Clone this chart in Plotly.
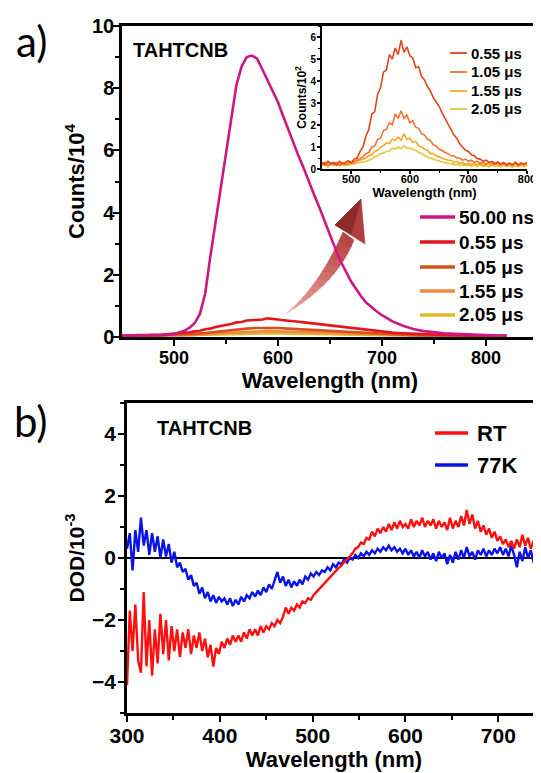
import plotly.graph_objects as go

W, H = 541, 773
OFF = 8  # default page body margin
def PX(x): return (x - OFF) / W
def PY(y): return 1 - (y - OFF) / H

# ---------------- data: panel a, main ----------------
wl_50ns = [450, 460, 470, 480, 490, 500] + list(range(505, 701, 5)) + list(range(710, 821, 10))
cnt_50ns = [0.04, 0.04, 0.05, 0.05, 0.06, 0.10,
            0.14, 0.20, 0.30, 0.45, 0.75, 1.40, 2.60, 3.70, 4.80, 6.00,
            7.10, 8.10, 8.70, 9.00, 9.05, 8.95, 8.60, 8.25, 7.95, 7.55,
            7.10, 6.65, 6.20, 5.80, 5.40, 4.95, 4.55, 4.15, 3.70, 3.30,
            2.85, 2.45, 2.10, 1.80, 1.55, 1.30, 1.10, 0.95, 0.82, 0.70,
            0.50, 0.36, 0.26, 0.19, 0.15, 0.12, 0.10, 0.08, 0.07, 0.06, 0.05, 0.05]

wl_055 = list(range(450, 811, 5))
cnt_055 = [0.05, 0.04, 0.05, 0.06, 0.05, 0.06, 0.07, 0.06, 0.08, 0.09,
           0.10, 0.11, 0.13, 0.15, 0.18, 0.20, 0.25, 0.27, 0.32, 0.35,
           0.40, 0.42, 0.47, 0.48, 0.53, 0.54, 0.57, 0.56, 0.60, 0.57,
           0.56, 0.54, 0.53, 0.50, 0.49, 0.47, 0.45, 0.44, 0.41, 0.40,
           0.37, 0.36, 0.33, 0.31, 0.28, 0.27, 0.24, 0.22, 0.20, 0.18,
           0.17, 0.15, 0.14, 0.13, 0.12, 0.11, 0.10, 0.10, 0.09, 0.08,
           0.08, 0.07, 0.07, 0.06, 0.06, 0.06, 0.05, 0.05, 0.05, 0.05,
           0.05, 0.04, 0.04]

wl_us = list(range(450, 821, 10))
cnt_105 = [0.03, 0.04, 0.04, 0.05, 0.05, 0.06, 0.08, 0.10, 0.13, 0.17,
           0.21, 0.24, 0.27, 0.29, 0.30, 0.29, 0.27, 0.25, 0.23, 0.21,
           0.19, 0.17, 0.15, 0.13, 0.11, 0.09, 0.08, 0.07, 0.06, 0.05,
           0.05, 0.04, 0.04, 0.04, 0.03, 0.03, 0.03, 0.03]
cnt_155 = [0.03, 0.03, 0.03, 0.04, 0.04, 0.05, 0.06, 0.07, 0.09, 0.11,
           0.13, 0.15, 0.17, 0.18, 0.19, 0.18, 0.17, 0.16, 0.15, 0.13,
           0.12, 0.11, 0.10, 0.09, 0.08, 0.07, 0.06, 0.05, 0.05, 0.04,
           0.04, 0.04, 0.03, 0.03, 0.03, 0.03, 0.03, 0.03]
cnt_205 = [0.04, 0.04, 0.04, 0.04, 0.05, 0.05, 0.06, 0.06, 0.07, 0.08,
           0.09, 0.10, 0.11, 0.12, 0.12, 0.12, 0.11, 0.11, 0.10, 0.09,
           0.09, 0.08, 0.07, 0.07, 0.06, 0.06, 0.05, 0.05, 0.05, 0.05,
           0.05, 0.05, 0.05, 0.05, 0.05, 0.05, 0.05, 0.05]

# ---------------- data: panel a, inset (counts / 10^2) ----------------
wl_ins = list(range(450, 801, 5))
ins_055 = [0.30, 0.20, 0.35, 0.25, 0.30, 0.18, 0.35, 0.25, 0.30, 0.38,
           0.28, 0.45, 0.50, 0.80, 1.00, 1.50, 1.80, 2.50, 2.60, 3.40,
           3.70, 4.40, 4.50, 5.20, 5.00, 5.50, 5.20, 5.85, 5.30, 5.55,
           5.15, 5.05, 4.60, 4.65, 4.20, 4.05, 3.75, 3.55, 3.25, 3.05,
           2.85, 2.55, 2.30, 2.05, 1.85, 1.55, 1.40, 1.15, 1.00, 0.85,
           0.80, 0.65, 0.60, 0.48, 0.45, 0.35, 0.40, 0.30, 0.35, 0.25,
           0.32, 0.22, 0.30, 0.20, 0.28, 0.18, 0.30, 0.20, 0.28, 0.22,
           0.30]
ins_105 = [0.20, 0.30, 0.15, 0.25, 0.20, 0.30, 0.18, 0.25, 0.20, 0.30,
           0.28, 0.35, 0.40, 0.50, 0.55, 0.70, 0.75, 1.00, 1.05, 1.35,
           1.40, 1.75, 1.80, 2.10, 2.00, 2.50, 2.30, 2.65, 2.30, 2.45,
           2.10, 2.20, 1.90, 1.85, 1.60, 1.55, 1.35, 1.30, 1.10, 1.05,
           0.90, 0.85, 0.75, 0.70, 0.60, 0.60, 0.50, 0.50, 0.40, 0.45,
           0.35, 0.40, 0.30, 0.35, 0.25, 0.30, 0.20, 0.30, 0.25, 0.20,
           0.30, 0.20, 0.25, 0.15, 0.25, 0.20, 0.30, 0.15, 0.25, 0.20,
           0.28]
ins_155 = [0.25, 0.15, 0.30, 0.20, 0.25, 0.15, 0.30, 0.20, 0.25, 0.20,
           0.30, 0.25, 0.35, 0.40, 0.45, 0.50, 0.60, 0.65, 0.80, 0.85,
           1.00, 1.05, 1.20, 1.15, 1.35, 1.30, 1.45, 1.30, 1.60, 1.35,
           1.40, 1.20, 1.25, 1.05, 1.00, 0.90, 0.85, 0.70, 0.70, 0.60,
           0.55, 0.50, 0.45, 0.40, 0.40, 0.30, 0.35, 0.25, 0.30, 0.20,
           0.25, 0.20, 0.28, 0.18, 0.25, 0.15, 0.25, 0.20, 0.15, 0.25,
           0.20, 0.15, 0.25, 0.18, 0.22, 0.15, 0.25, 0.12, 0.22, 0.18,
           0.25]
ins_205 = [0.15, 0.25, 0.10, 0.20, 0.15, 0.22, 0.12, 0.20, 0.15, 0.18,
           0.20, 0.22, 0.25, 0.28, 0.30, 0.35, 0.40, 0.45, 0.55, 0.60,
           0.70, 0.72, 0.80, 0.82, 0.95, 0.90, 1.00, 0.92, 1.05, 0.95,
           0.95, 0.88, 0.85, 0.75, 0.70, 0.62, 0.55, 0.50, 0.45, 0.40,
           0.35, 0.32, 0.30, 0.25, 0.25, 0.20, 0.22, 0.15, 0.20, 0.15,
           0.18, 0.12, 0.20, 0.10, 0.18, 0.12, 0.15, 0.10, 0.18, 0.12,
           0.15, 0.10, 0.18, 0.12, 0.15, 0.08, 0.15, 0.12, 0.16, 0.10,
           0.15]

# ---------------- data: panel b (DOD / 10^-3) ----------------
wl_b = list(range(300, 748, 3))
dod_rt = [-4.1, -1.7, -3.0, -1.5, -3.3, -3.7, -1.1, -3.5, -2.0, -3.8,
          -2.3, -3.4, -1.8, -3.1, -2.0, -3.3, -2.2, -3.0, -2.3, -3.2,
          -2.4, -2.9, -2.3, -3.1, -2.5, -2.9, -2.4, -3.0, -2.6, -3.2,
          -2.8, -3.5, -2.9, -3.1, -2.7, -2.9, -2.6, -2.8, -2.5, -2.7,
          -2.5, -2.7, -2.4, -2.6, -2.3, -2.5, -2.3, -2.5, -2.2, -2.4,
          -2.2, -2.3, -2.1, -2.2, -2.0, -2.1, -1.9, -1.6, -1.8, -1.6,
          -1.7, -1.5, -1.6, -1.4, -1.45, -1.3, -1.35, -1.2, -1.1, -1.0,
          -0.9, -0.8, -0.7, -0.6, -0.5, -0.42, -0.32, -0.25, -0.12, -0.05,
          0.05, 0.15, 0.3, 0.35, 0.5, 0.45, 0.65, 0.6, 0.85, 0.7,
          0.95, 0.8, 1.0, 0.85, 1.1, 0.9, 1.15, 0.95, 1.2, 1.0,
          1.1, 0.95, 1.25, 1.0, 1.2, 1.05, 1.3, 1.0, 1.2, 1.05,
          1.25, 0.95, 1.2, 1.0, 1.15, 0.9, 1.3, 0.95, 1.2, 1.0,
          1.35, 1.05, 1.55, 1.1, 1.4, 0.95, 1.2, 0.85, 1.05, 0.75,
          0.95, 0.65, 0.85, 0.55, 0.7, 0.45, 0.6, 0.35, 0.55, 0.3,
          0.6, 0.35, 0.75, 0.4, 0.65, 0.3, 0.55, 0.25, 0.45, 0.3]
dod_77k = [0.3, 0.8, -0.4, 0.9, 0.2, 1.3, 0.4, 0.9, 0.1, 0.8,
           0.2, 0.7, 0.0, 0.6, 0.05, 0.45, -0.15, 0.2, -0.3, -0.15,
           -0.45, -0.35, -0.7, -0.55, -0.9, -0.8, -1.15, -0.95, -1.3, -1.1,
           -1.4, -1.2, -1.45, -1.25, -1.4, -1.3, -1.5, -1.3, -1.55, -1.35,
           -1.5, -1.25, -1.4, -1.2, -1.3, -1.1, -1.25, -1.05, -1.2, -0.95,
           -1.1, -0.85, -1.0, -0.7, -0.45, -0.8, -0.6, -0.9, -0.7, -0.95,
           -0.75, -0.9, -0.7, -0.85, -0.6, -0.7, -0.5, -0.6, -0.45, -0.55,
           -0.4, -0.45, -0.3, -0.4, -0.2, -0.3, -0.15, -0.2, -0.05, -0.15,
           0.0, -0.05, 0.1, 0.0, 0.15, 0.05, 0.2, 0.1, 0.25, 0.15,
           0.3, 0.2, 0.35, 0.25, 0.4, 0.25, 0.35, 0.2, 0.3, 0.15,
           0.3, 0.1, 0.25, 0.05, 0.2, 0.0, 0.25, 0.05, 0.2, -0.05,
           0.15, -0.1, 0.2, 0.0, 0.15, -0.2, 0.1, -0.15, 0.2, -0.05,
           0.25, 0.0, 0.35, 0.05, 0.2, -0.05, 0.25, 0.1, 0.3, 0.05,
           0.25, 0.1, 0.3, 0.15, 0.35, 0.1, 0.3, 0.05, 0.4, 0.1,
           -0.3, 0.2, -0.1, 0.35, 0.0, 0.25, -0.15, 0.15, -0.1, 0.05]

main_names = ["50.00 ns", "0.55 μs", "1.05 μs", "1.55 μs", "2.05 μs"]
main_colors = ["#cc1785", "#e2161c", "#d4521e", "#ef8a3e", "#e6b82c"]
ins_names = ["0.55 μs", "1.05 μs", "1.55 μs", "2.05 μs"]
ins_colors = ["#e2461c", "#f27432", "#f5a820", "#e6c63a"]
b_names = ["RT", "77K"]
b_colors = ["#ff1010", "#0a14e6"]

fig = go.Figure()

main_series = [(wl_50ns, cnt_50ns), (wl_055, cnt_055), (wl_us, cnt_105), (wl_us, cnt_155), (wl_us, cnt_205)]
for i in [4, 3, 2, 1, 0]:
    xs, ys = main_series[i]
    fig.add_trace(go.Scatter(x=xs, y=ys, mode="lines", name=main_names[i],
                             line=dict(color=main_colors[i], width=2.6),
                             xaxis="x", yaxis="y", showlegend=False))

ins_series = [ins_055, ins_105, ins_155, ins_205]
for i in [3, 2, 1, 0]:
    fig.add_trace(go.Scatter(x=wl_ins, y=ins_series[i], mode="lines", name=ins_names[i],
                             line=dict(color=ins_colors[i], width=1.6),
                             xaxis="x2", yaxis="y2", showlegend=False))

fig.add_trace(go.Scatter(x=wl_b, y=dod_77k, mode="lines", name=b_names[1],
                         line=dict(color=b_colors[1], width=2.4), xaxis="x3", yaxis="y3",
                         showlegend=False))
fig.add_trace(go.Scatter(x=wl_b, y=dod_rt, mode="lines", name=b_names[0],
                         line=dict(color=b_colors[0], width=2.4), xaxis="x3", yaxis="y3",
                         showlegend=False))

bold = dict(family="Liberation Sans, Arial, sans-serif", color="black", weight="bold")
shapes, annotations = [], []

# ---------------- decorative 3D arrow ----------------
def bez(p0, c, p2, t):
    return ((1 - t) ** 2 * p0[0] + 2 * (1 - t) * t * c[0] + t ** 2 * p2[0],
            (1 - t) ** 2 * p0[1] + 2 * (1 - t) * t * c[1] + t ** 2 * p2[1])

def path(pts):
    s = "M {:.5f} {:.5f}".format(PX(pts[0][0]), PY(pts[0][1]))
    for p in pts[1:]:
        s += " L {:.5f} {:.5f}".format(PX(p[0]), PY(p[1]))
    return s + " Z"

up_edge = [(287, 313), (320, 285), (343, 232)]
lo_edge = [(287, 313), (337, 283), (354, 240)]
c0, c1 = (240, 168, 162), (180, 64, 64)
N = 12
for k in range(N):
    t0, t1 = k / N, min((k + 1) / N + 0.01, 1)
    q = [bez(*up_edge, t0), bez(*up_edge, t1), bez(*lo_edge, t1), bez(*lo_edge, t0)]
    f = (k + 0.5) / N
    col = "rgb({},{},{})".format(*[int(a + (b - a) * f) for a, b in zip(c0, c1)])
    shapes.append(dict(type="path", xref="paper", yref="paper", path=path(q),
                       fillcolor=col, line=dict(color=col, width=0.6), layer="below"))
shapes.append(dict(type="path", xref="paper", yref="paper",
                   path=path([(335, 225), (361, 199), (365, 244)]),
                   fillcolor="rgb(176,62,62)", line=dict(color="rgb(176,62,62)", width=0.6), layer="below"))
shapes.append(dict(type="path", xref="paper", yref="paper",
                   path=path([(335, 225), (361, 199), (351, 234)]),
                   fillcolor="rgb(140,42,44)", line=dict(color="rgb(140,42,44)", width=0.6), layer="below"))

# ---------------- legends (sample line + label) ----------------
def legend_block(names, colors, x0, x1, xt, ys, size, lw):
    for name, col, yy in zip(names, colors, ys):
        shapes.append(dict(type="line", xref="paper", yref="paper",
                           x0=PX(x0), x1=PX(x1), y0=PY(yy), y1=PY(yy),
                           line=dict(color=col, width=lw)))
        annotations.append(dict(text=name, x=PX(xt), y=PY(yy), xref="paper", yref="paper",
                                xanchor="left", yanchor="middle", showarrow=False,
                                font=dict(size=size, **bold)))

legend_block(main_names, main_colors, 420, 455, 457, [217, 242, 267, 291, 315], 19, 3.5)
legend_block(ins_names, ins_colors, 450, 467, 469, [53, 72, 91, 109], 15, 1.8)
legend_block(b_names, b_colors, 435, 468, 475, [433, 465], 22, 3.5)

annotations += [
    dict(text="a)", x=PX(31), y=PY(41), xref="paper", yref="paper", showarrow=False,
         xanchor="center", yanchor="middle", font=dict(family="Lato, sans-serif", size=42, color="black")),
    dict(text="b)", x=PX(31), y=PY(421), xref="paper", yref="paper", showarrow=False,
         xanchor="center", yanchor="middle", font=dict(family="Lato, sans-serif", size=42, color="black")),
    dict(text="TAHTCNB", x=PX(180), y=PY(50), xref="paper", yref="paper", showarrow=False,
         xanchor="center", yanchor="middle", font=dict(size=20, **bold)),
    dict(text="TAHTCNB", x=PX(204), y=PY(428), xref="paper", yref="paper", showarrow=False,
         xanchor="center", yanchor="middle", font=dict(size=20, **bold)),
]

def axis_common(size, lw=2.5, tl=6, sto=0):
    return dict(showline=True, linecolor="black", linewidth=lw, ticks="outside", ticklen=tl,
                tickwidth=2, tickcolor="black", showgrid=False, automargin=False,
                ticklabelstandoff=sto, tickfont=dict(size=size, **bold))

def minor(tl, tw, **kw):
    return dict(ticklen=tl, tickwidth=tw, ticks="outside", tickcolor="black", **kw)

fig.update_layout(
    width=W, height=H, margin=dict(l=0, r=0, t=0, b=0, autoexpand=False),
    paper_bgcolor="white", plot_bgcolor="rgba(0,0,0,0)", showlegend=False,
    font=dict(family="Liberation Sans, Arial, sans-serif", color="black"),
    xaxis=dict(domain=[PX(122), PX(538)], range=[450, 850], anchor="y", mirror=True, zeroline=False,
               tickvals=[500, 600, 700, 800], minor=minor(4, 2, tickvals=[550, 650, 750]),
               title=dict(text="Wavelength (nm)", font=dict(size=22, **bold), standoff=2),
               **axis_common(18, sto=-3)),
    yaxis=dict(domain=[PY(337), PY(26)], range=[0, 10], anchor="x", mirror=True, dtick=2, zeroline=False,
               minor=minor(4, 2, dtick=1),
               title=dict(text="Counts/10<sup>4</sup>", font=dict(size=22, **bold), standoff=2),
               **axis_common(20, sto=-5)),
    xaxis2=dict(domain=[PX(322), PX(527)], range=[450, 800], anchor="y2", zeroline=False,
                tickvals=[500, 600, 700, 800], minor=minor(2, 1.2, tickvals=[550, 650, 750]),
                title=dict(text="Wavelength (nm)", font=dict(size=13, **bold), standoff=1),
                **axis_common(11, lw=1.8, tl=3, sto=-4)),
    yaxis2=dict(domain=[PY(169), PY(26)], range=[0, 6.5], anchor="x2", dtick=1, zeroline=False,
                minor=minor(2, 1.2, dtick=0.5),
                title=dict(text="Counts/10<sup>2</sup>", font=dict(size=12, **bold), standoff=1),
                **axis_common(10, lw=1.8, tl=3, sto=-1)),
    xaxis3=dict(domain=[PX(127), PX(541)], range=[300, 746], anchor="y3", mirror=True, dtick=100,
                zeroline=False, minor=minor(4, 2, dtick=50),
                title=dict(text="Wavelength (nm)", font=dict(size=22, **bold), standoff=1),
                **axis_common(21, sto=-4)),
    yaxis3=dict(domain=[PY(713), PY(403)], range=[-5, 5], anchor="x3", tickvals=[-4, -2, 0, 2, 4],
                minor=minor(4, 2, tickvals=[-5, -3, -1, 1, 3, 5]),
                zeroline=True, zerolinecolor="black", zerolinewidth=1.6,
                title=dict(text="DOD/10<sup>-3</sup>", font=dict(size=21, **bold), standoff=2),
                **axis_common(21, sto=-2)),
    shapes=shapes,
    annotations=annotations,
)

fig.write_html("out.html")
